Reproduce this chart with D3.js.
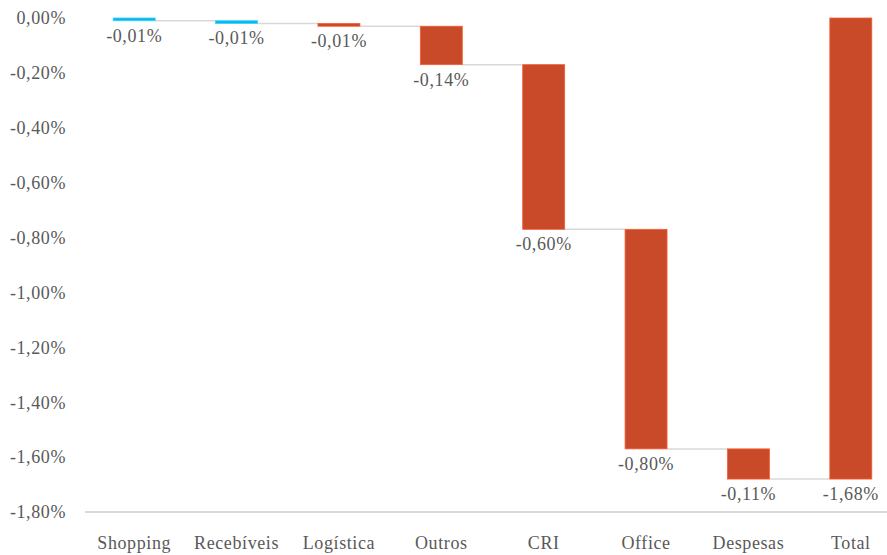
<!DOCTYPE html>
<html>
<head>
<meta charset="utf-8">
<script src="https://cdn.jsdelivr.net/npm/d3@7"></script>
<style>
  body { margin: 0; background: #fff; }
  text { font-family: "Liberation Serif", "DejaVu Serif", serif; fill: #595959; letter-spacing: 0.6px; }
</style>
</head>
<body>
<div id="chart"></div>
<script>
// waterfall data
const categories = ["Shopping", "Recebíveis", "Logística", "Outros", "CRI", "Office", "Despesas", "Total"];
const deltas = [-0.01, -0.01, -0.01, -0.14, -0.60, -0.80, -0.11, -1.68];
const labels = ["-0,01%", "-0,01%", "-0,01%", "-0,14%", "-0,60%", "-0,80%", "-0,11%", "-1,68%"];
const colorKeys = ["blue", "blue", "red", "red", "red", "red", "red", "red"];
const yTicks = [0, -0.2, -0.4, -0.6, -0.8, -1.0, -1.2, -1.4, -1.6, -1.8];

const width = 887, height = 555;
const colors = { blue: "#1aafe6", red: "#c94a28" };

// build start/end for each step, last one is the total from zero
let running = 0;
const bars = categories.map(function (c, i) {
    let start, end;
    if (i === categories.length - 1) {
        start = 0; end = deltas[i];
    } else {
        start = running; end = running + deltas[i]; running = end;
    }
    return { cat: c, start: start, end: end, label: labels[i], color: colors[colorKeys[i]] };
});

const x = d3.scaleBand().domain(categories).range([83, 902]).paddingInner(0.59).paddingOuter(0.295);
const y = d3.scaleLinear().domain([0, -1.8]).range([18, 512]);

const svg = d3.select("#chart").append("svg")
    .attr("width", width).attr("height", height);

// baseline at -1,80%
svg.append("line")
    .attr("x1", 85).attr("x2", width)
    .attr("y1", y(-1.8)).attr("y2", y(-1.8))
    .attr("stroke", "#d9d9d9").attr("stroke-width", 2);

// y axis labels
const fmt = function (v) { return d3.format(".2f")(v).replace("−", "-").replace(".", ","); };
svg.append("g").selectAll("text").data(yTicks).join("text")
    .attr("x", 66).attr("y", function (d) { return y(d); })
    .attr("dy", "0.35em")
    .attr("text-anchor", "end")
    .style("font-size", "18px")
    .text(function (d) { return (d === 0 ? "0,00" : fmt(d)) + "%"; });

// connectors
svg.append("g").selectAll("line").data(bars.slice(0, -1)).join("line")
    .attr("x1", function (d) { return x(d.cat) + x.bandwidth(); })
    .attr("x2", function (d, i) { return x(categories[i + 1]); })
    .attr("y1", function (d) { return y(d.end); })
    .attr("y2", function (d) { return y(d.end); })
    .attr("stroke", "#d9d9d9").attr("stroke-width", 1.5);

// bars
svg.append("g").selectAll("rect").data(bars).join("rect")
    .attr("x", function (d) { return x(d.cat); })
    .attr("width", x.bandwidth())
    .attr("y", function (d) { return y(Math.max(d.start, d.end)); })
    .attr("height", function (d) { return Math.max(2, Math.abs(y(d.end) - y(d.start))); })
    .attr("fill", function (d) { return d.color; })
    .attr("stroke", function (d) { return d3.color(d.color).brighter(0.6); })
    .attr("stroke-width", 0.8);

// value labels under each bar
svg.append("g").selectAll("text").data(bars).join("text")
    .attr("x", function (d) { return x(d.cat) + x.bandwidth() / 2; })
    .attr("y", function (d) { return y(Math.min(d.start, d.end)) + 21; })
    .attr("text-anchor", "middle")
    .style("font-size", "18px")
    .text(function (d) { return d.label; });

// category labels
svg.append("g").selectAll("text").data(categories).join("text")
    .attr("x", function (d) { return x(d) + x.bandwidth() / 2; })
    .attr("y", 549)
    .attr("text-anchor", "middle")
    .style("font-size", "18px")
    .text(function (d) { return d; });
</script>
</body>
</html>
